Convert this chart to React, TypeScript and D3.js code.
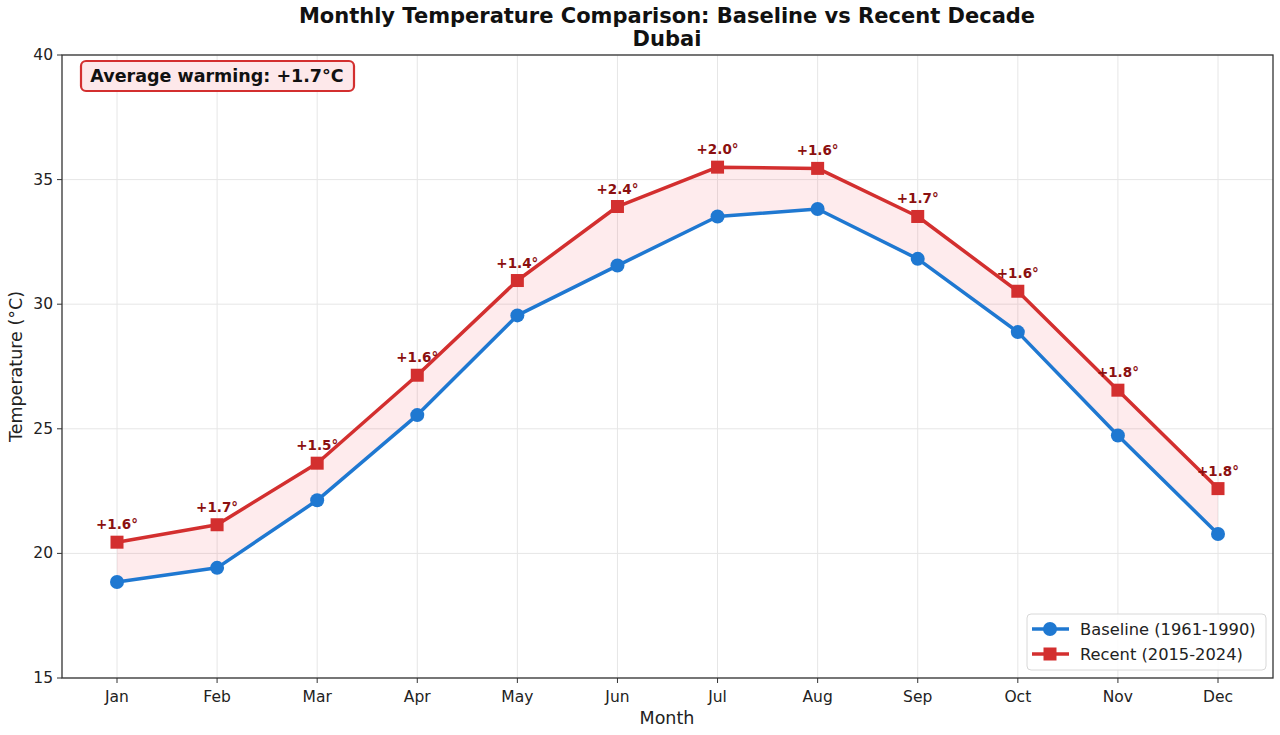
import * as d3 from 'd3';

const months = ['Jan', 'Feb', 'Mar', 'Apr', 'May', 'Jun', 'Jul', 'Aug', 'Sep', 'Oct', 'Nov', 'Dec'];
const baseline = [18.85, 19.42, 22.13, 25.55, 29.55, 31.55, 33.52, 33.82, 31.82, 28.88, 24.73, 20.78];
const recent = [20.45, 21.15, 23.62, 27.15, 30.95, 33.92, 35.5, 35.45, 33.52, 30.52, 26.55, 22.6];
const yTicks = [15, 20, 25, 30, 35, 40];

const BLUE = '#1f78d1';
const RED = '#d32f2f';
const FONT = '"DejaVu Sans", sans-serif';

export default function App() {
  const width = 1280;
  const height = 735;
  const left = 62;
  const right = 1273;
  const top = 55;
  const bottom = 678;

  const x = d3.scalePoint<string>().domain(months).range([117, 1218]);
  const y = d3.scaleLinear().domain([15, 40]).range([bottom, top]);

  const rows = months.map((m, i) => ({ m, b: baseline[i], r: recent[i] }));
  const lineB = d3.line<(typeof rows)[number]>().x((d) => x(d.m)!).y((d) => y(d.b));
  const lineR = d3.line<(typeof rows)[number]>().x((d) => x(d.m)!).y((d) => y(d.r));
  const band = d3
    .area<(typeof rows)[number]>()
    .x((d) => x(d.m)!)
    .y0((d) => y(d.b))
    .y1((d) => y(d.r));

  const diffs = rows.map((d) => d.r - d.b);
  const avg = d3.mean(diffs) ?? 0;

  return (
    <svg
      width={width}
      height={height}
      style={{ position: 'absolute', left: 0, top: 0, background: '#fff' }}
      fontFamily={FONT}
    >
      <rect width={width} height={height} fill="#fff" />
      <text x={667} y={23} textAnchor="middle" fontSize={21} fontWeight="bold" fill="#111">
        Monthly Temperature Comparison: Baseline vs Recent Decade
      </text>
      <text x={667} y={46} textAnchor="middle" fontSize={21} fontWeight="bold" fill="#111">
        Dubai
      </text>

      {/* grid */}
      {months.map((m) => (
        <line key={m} x1={x(m)} x2={x(m)} y1={top} y2={bottom} stroke="#e6e6e6" strokeWidth={1} />
      ))}
      {yTicks.map((t) => (
        <line key={t} x1={left} x2={right} y1={y(t)} y2={y(t)} stroke="#e6e6e6" strokeWidth={1} />
      ))}

      <path d={band(rows) ?? ''} fill="#f2364f" fillOpacity={0.1} />
      <path d={lineB(rows) ?? ''} fill="none" stroke={BLUE} strokeWidth={3.5} strokeLinejoin="round" />
      <path d={lineR(rows) ?? ''} fill="none" stroke={RED} strokeWidth={3.5} strokeLinejoin="round" />
      {rows.map((d) => (
        <circle key={d.m} cx={x(d.m)} cy={y(d.b)} r={7} fill={BLUE} />
      ))}
      {rows.map((d) => (
        <rect key={d.m} x={x(d.m)! - 6.5} y={y(d.r) - 6.5} width={13} height={13} fill={RED} />
      ))}
      {rows.map((d, i) => (
        <text
          key={d.m}
          x={x(d.m)}
          y={y(d.r) - 13}
          textAnchor="middle"
          fontSize={13.5}
          fontWeight="bold"
          fill="#8b1010"
        >
          {`+${diffs[i].toFixed(1)}°`}
        </text>
      ))}

      {/* frame */}
      <rect x={left} y={top} width={right - left} height={bottom - top} fill="none" stroke="#333" strokeWidth={1.3} />

      {/* x axis */}
      {months.map((m) => (
        <g key={m}>
          <line x1={x(m)} x2={x(m)} y1={bottom} y2={bottom + 5} stroke="#333" />
          <text x={x(m)} y={bottom + 24} textAnchor="middle" fontSize={15.5} fill="#222">
            {m}
          </text>
        </g>
      ))}
      <text x={667} y={724} textAnchor="middle" fontSize={17.5} fill="#222">
        Month
      </text>

      {/* y axis */}
      {yTicks.map((t) => (
        <g key={t}>
          <line x1={left - 5} x2={left} y1={y(t)} y2={y(t)} stroke="#333" />
          <text x={left - 9} y={y(t) + 5} textAnchor="end" fontSize={15.5} fill="#222">
            {t}
          </text>
        </g>
      ))}
      <text
        transform={`translate(22, ${(top + bottom) / 2}) rotate(-90)`}
        textAnchor="middle"
        fontSize={17.5}
        fill="#222"
      >
        Temperature (°C)
      </text>

      {/* annotation */}
      <rect x={81} y={61} width={273} height={30} rx={5} fill="#fde8ea" stroke={RED} strokeWidth={2.2} />
      <text x={217} y={82} textAnchor="middle" fontSize={17.5} fontWeight="bold" fill="#111">
        {`Average warming: +${avg.toFixed(1)}°C`}
      </text>

      {/* legend */}
      <rect x={1027} y={614} width={239} height={56} rx={4} fill="#fff" fillOpacity={0.85} stroke="#d8d8d8" />
      <line x1={1032} x2={1069} y1={629} y2={629} stroke={BLUE} strokeWidth={3.5} />
      <circle cx={1050} cy={629} r={7} fill={BLUE} />
      <text x={1080} y={635} fontSize={16.3} fill="#222">
        Baseline (1961-1990)
      </text>
      <line x1={1032} x2={1069} y1={654} y2={654} stroke={RED} strokeWidth={3.5} />
      <rect x={1043.5} y={647.5} width={13} height={13} fill={RED} />
      <text x={1080} y={660} fontSize={16.3} fill="#222">
        Recent (2015-2024)
      </text>
    </svg>
  );
}
